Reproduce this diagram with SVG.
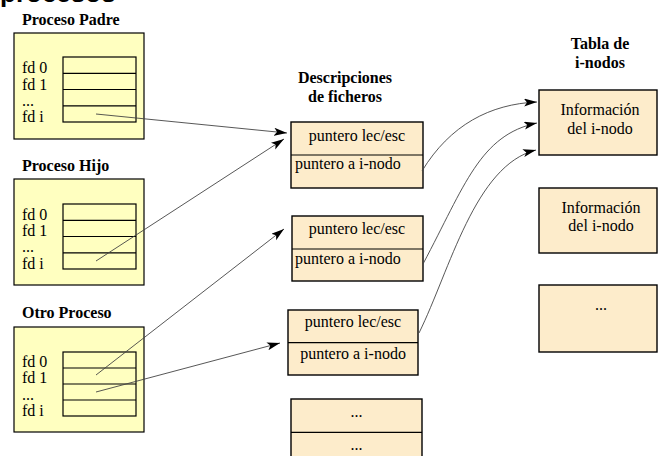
<svg xmlns="http://www.w3.org/2000/svg" width="658" height="456" viewBox="0 0 658 456">
<defs>
<style>
text{font-family:'Liberation Serif','Times New Roman','DejaVu Serif',serif;font-size:16px;fill:#000}
.b{font-weight:bold}
.m{text-anchor:middle}
.proc{fill:#FFFFC0;stroke:#000;stroke-width:1.2}
.tab{fill:none;stroke:#000;stroke-width:1.2}
.desc{fill:#FDECCB;stroke:#000;stroke-width:1.4}
.con{fill:none;stroke:#444;stroke-width:0.9;marker-end:url(#ah)}
</style>
<marker id="ah" markerUnits="userSpaceOnUse" markerWidth="14" markerHeight="9" refX="13" refY="4" orient="auto">
<path d="M0,0 L13,4 L0,8 L3,4 z" fill="#000"/>
</marker>
</defs>
<rect width="658" height="456" fill="#fff"/>
<text x="0" y="1.5" font-family="Liberation Sans, Arial, sans-serif" style="font-family:'Liberation Sans',Arial,sans-serif;font-weight:bold;font-size:26px">procesos</text>

<g id="padre">
<text class="b" x="22" y="25">Proceso Padre</text>
<rect class="proc" x="14" y="33" width="130" height="106"/>
<rect class="tab" x="63" y="57" width="73" height="65"/>
<path class="tab" d="M63,73.3H136M63,89.5H136M63,105.8H136"/>
<text x="22" y="73">fd 0</text>
<text x="22" y="89.5">fd 1</text>
<text x="22" y="105.5">...</text>
<text x="22" y="122">fd i</text>
</g>

<g id="hijo">
<text class="b" x="22" y="171">Proceso Hijo</text>
<rect class="proc" x="14" y="179" width="130" height="106"/>
<rect class="tab" x="63" y="204" width="73" height="65"/>
<path class="tab" d="M63,220.3H136M63,236.5H136M63,252.8H136"/>
<text x="22" y="220">fd 0</text>
<text x="22" y="236">fd 1</text>
<text x="22" y="252">...</text>
<text x="22" y="269">fd i</text>
</g>

<g id="otro">
<text class="b" x="22" y="318">Otro Proceso</text>
<rect class="proc" x="14" y="327" width="130" height="105"/>
<rect class="tab" x="63" y="352" width="73" height="64"/>
<path class="tab" d="M63,368H136M63,384H136M63,400H136"/>
<text x="22" y="367">fd 0</text>
<text x="22" y="383">fd 1</text>
<text x="22" y="399.5">...</text>
<text x="22" y="416">fd i</text>
</g>

<g id="desc-header">
<text class="b m" x="345" y="83">Descripciones</text>
<text class="b m" x="345" y="102">de ficheros</text>
</g>

<g id="descA">
<rect class="desc" x="291" y="122" width="132" height="66"/>
<path class="tab" d="M291,155H423"/>
<text class="m" x="357" y="141">puntero lec/esc</text>
<text x="295" y="168.5">puntero a i-nodo</text>
</g>

<g id="descB">
<rect class="desc" x="292" y="216" width="131" height="65"/>
<path class="tab" d="M292,249H423"/>
<text class="m" x="357" y="233.5">puntero lec/esc</text>
<text x="295" y="263.5">puntero a i-nodo</text>
</g>

<g id="descC">
<rect class="desc" x="288" y="310" width="130" height="65"/>
<path class="tab" d="M288,342.7H418"/>
<text class="m" x="353" y="327">puntero lec/esc</text>
<text class="m" x="353" y="358.5">puntero a i-nodo</text>
</g>

<g id="descD">
<rect class="desc" x="291" y="399" width="131" height="68"/>
<path class="tab" d="M291,432.3H422"/>
<text class="m" x="356.5" y="417">...</text>
<text class="m" x="356.5" y="449.5">...</text>
</g>

<g id="inodo-header">
<text class="b m" x="600" y="49">Tabla de</text>
<text class="b m" x="600" y="67.5">i-nodos</text>
</g>

<g id="inodo1">
<rect class="desc" x="539" y="90" width="118" height="65"/>
<text class="m" x="600" y="115">Información</text>
<text class="m" x="600" y="133.5">del i-nodo</text>
</g>

<g id="inodo2">
<rect class="desc" x="539" y="188" width="118" height="65"/>
<text class="m" x="601" y="213">Información</text>
<text class="m" x="601" y="230.5">del i-nodo</text>
</g>

<g id="inodo3">
<rect class="desc" x="539" y="285" width="118" height="67"/>
<text class="m" x="601" y="310">...</text>
</g>

<g id="connectors">
<path class="con" d="M96,114 L287,133"/>
<path class="con" d="M96,261 L284,139"/>
<path class="con" d="M96,375 L284,229"/>
<path class="con" d="M96,392 L280,343"/>
<path class="con" d="M422,171 C450,125 490,104 537,102"/>
<path class="con" d="M423,264 C465,185 480,135 537,123"/>
<path class="con" d="M419,333 C450,270 475,165 536,150"/>
</g>
</svg>
